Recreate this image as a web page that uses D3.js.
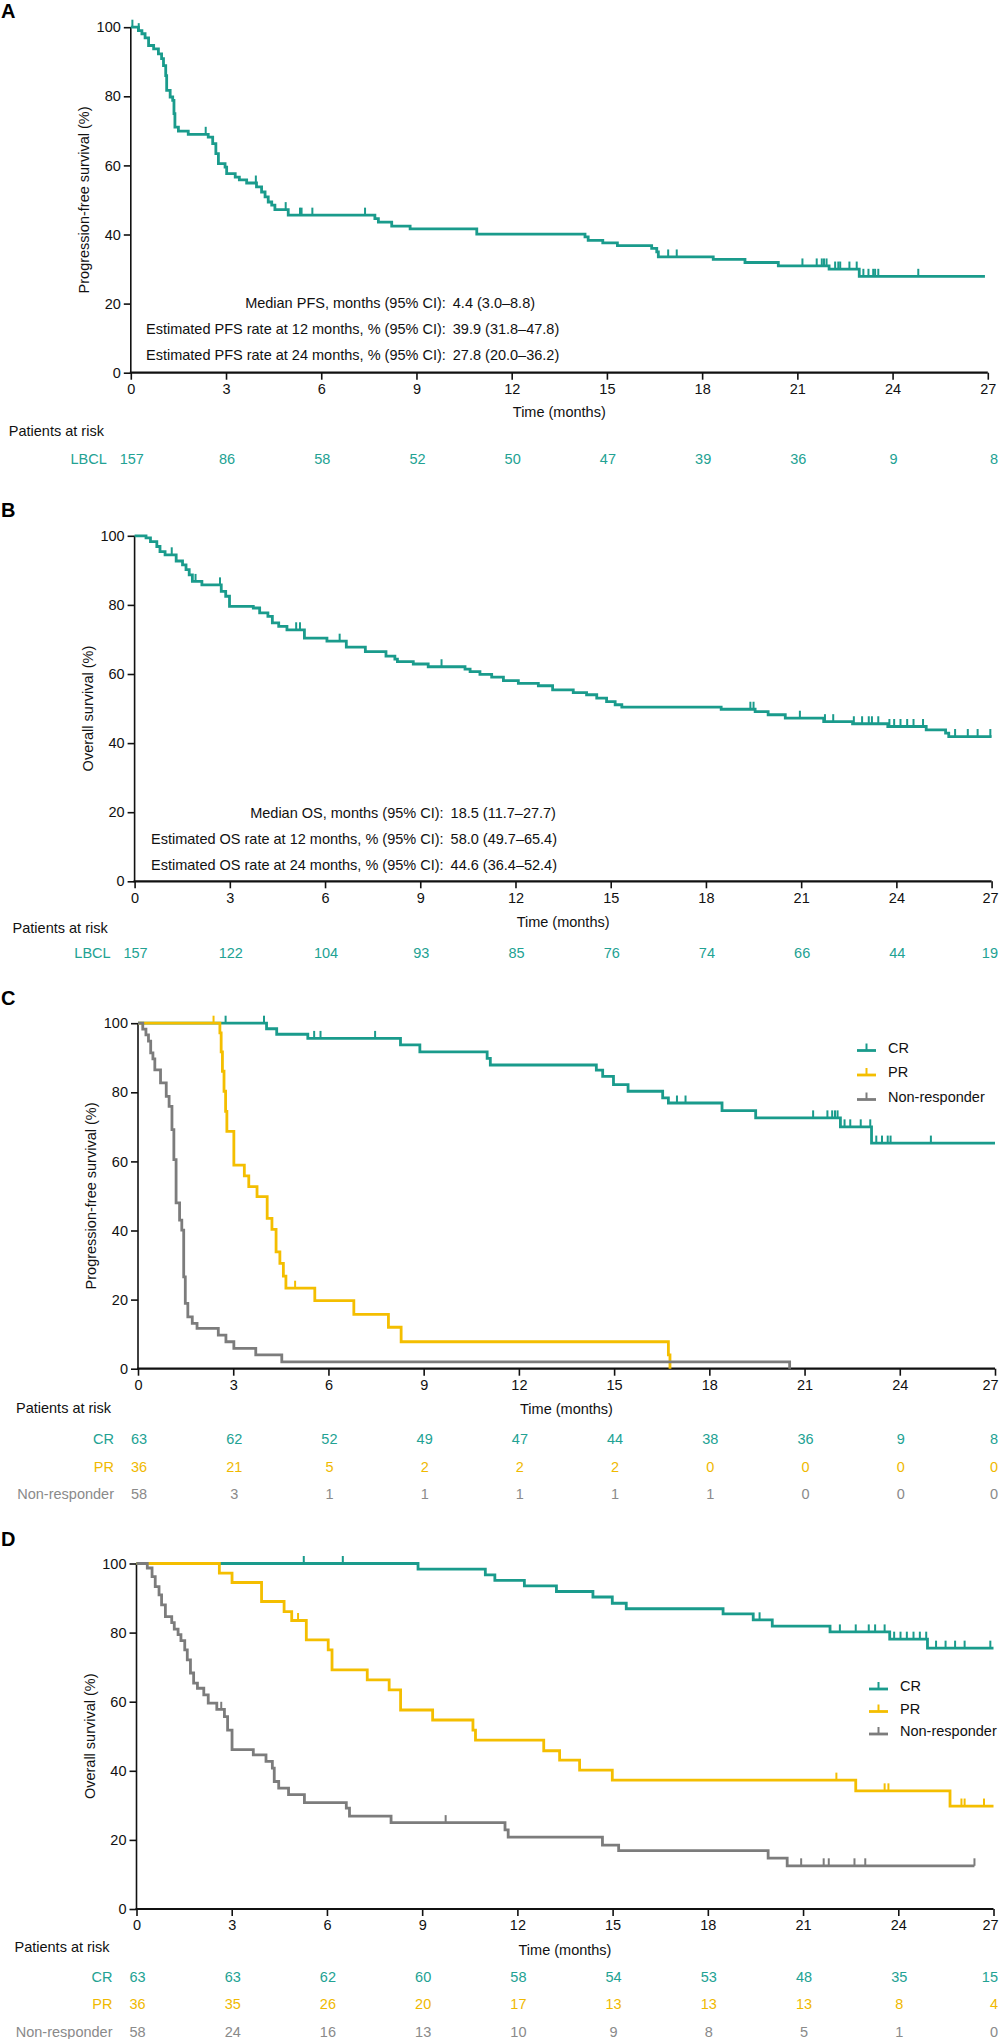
<!DOCTYPE html>
<html>
<head>
<meta charset="utf-8">
<script src="https://cdn.jsdelivr.net/npm/d3@7"></script>
<style>
body { margin: 0; background: #fff; }
text { font-family: "Liberation Sans", Arial, sans-serif; }
</style>
</head>
<body>
<script>
// x and y ticks
var monthTicks = [0, 3, 6, 9, 12, 15, 18, 21, 24, 27];
var pctTicks = [0, 20, 40, 60, 80, 100];

// A: PFS, all LBCL  ([month, % surviving from that month on])
var pfsAllSteps = [[0,100],[0.24,99.0],[0.35,98.1],[0.45,96.9],[0.56,94.7],[0.72,93.7],[0.87,92.3],[0.97,90.9],
  [1.03,88.9],[1.1,86.0],[1.13,81.7],[1.24,79.8],[1.32,78.8],[1.36,75.0],[1.39,71.1],[1.5,69.9],[1.81,69.0],
  [2.44,68.2],[2.58,66.3],[2.68,63.4],[2.76,60.5],[2.97,59.5],[3.02,57.6],[3.29,56.6],[3.42,55.8],[3.65,54.9],
  [3.96,53.8],[4.12,52.3],[4.23,50.9],[4.33,49.4],[4.44,48.5],[4.54,47.2],[4.96,45.6],[7.69,44.6],[7.8,43.6],
  [8.22,42.4],[8.8,41.6],[10.9,40.1],[14.31,39.3],[14.41,38.3],[14.87,37.6],[15.33,36.8],[16.41,36.0],
  [16.57,35.0],[16.62,33.5],[18.35,32.8],[19.35,31.9],[20.4,30.9],[22.0,30.0],[22.95,27.9]];
var pfsAllCensor = [0.05, 0.25, 2.36, 3.94, 4.88, 5.33, 5.38, 5.72, 7.38, 16.93, 17.2, 21.16, 21.61, 21.77,
  21.84, 21.92, 22.19, 22.29, 22.35, 22.64, 22.87, 23.08, 23.24, 23.39, 23.45, 23.55, 24.81];
var pfsAllEnd = 26.91;

// B: OS, all LBCL
var osAllSteps = [[0,100],[0.36,99.4],[0.5,98.3],[0.7,96.9],[0.8,95.4],[0.96,94.5],[1.31,92.7],[1.51,91.6],
  [1.62,90.2],[1.72,88.7],[1.82,86.8],[2.12,85.8],[2.73,83.9],[2.87,82.5],[2.99,79.6],[3.74,79.1],[3.94,77.7],
  [4.2,76.7],[4.34,74.8],[4.54,73.8],[4.8,72.8],[5.35,70.4],[6.06,69.5],[6.67,67.8],[7.27,66.5],[7.92,65.2],
  [8.2,64.3],[8.28,63.6],[8.78,62.9],[9.25,62.1],[10.41,61.4],[10.57,60.7],[10.88,59.9],[11.25,59.1],
  [11.62,58.1],[12.09,57.3],[12.72,56.6],[13.17,55.4],[13.82,54.6],[14.24,54.0],[14.56,53.0],[14.87,52.0],
  [15.14,51.1],[15.35,50.4],[18.48,49.8],[19.55,49.1],[19.96,48.2],[20.5,47.2],[21.71,46.2],[22.62,45.6],
  [23.73,44.8],[24.94,43.8],[25.55,42.9],[25.65,41.9]];
var osAllCensor = [1.17, 1.92, 2.69, 5.09, 5.21, 6.46, 9.67, 19.4, 19.5, 20.96, 21.75, 22.01, 22.66, 22.92,
  23.13, 23.23, 23.43, 23.78, 23.93, 24.13, 24.34, 24.54, 24.84, 25.85, 26.25, 26.56, 26.96];
var osAllEnd = 27;

// C: PFS by best response
var pfsCrSteps = [[0,100],[4.05,98.4],[4.37,96.8],[5.35,95.6],[8.27,93.7],[8.88,91.7],[11.0,89.8],[11.1,87.9],
  [14.44,86.4],[14.64,84.6],[14.98,82.2],[15.44,80.3],[16.53,78.4],[16.71,76.9],[18.4,74.7],[19.46,72.6],
  [22.13,70.0],[23.11,65.3]];
var pfsCrCensor = [2.76, 3.97, 5.55, 5.75, 7.47, 16.98, 17.25, 21.27, 21.72, 21.87, 21.96, 22.04, 22.26,
  22.44, 22.77, 23.07, 23.26, 23.44, 23.62, 23.71, 24.98];
var pfsCrEnd = 27;

var pfsPrSteps = [[0,100],[2.58,97.2],[2.62,91.7],[2.66,86.1],[2.71,80.3],[2.76,74.5],[2.8,68.7],[3.02,58.9],
  [3.35,55.8],[3.49,52.7],[3.75,49.8],[4.07,43.5],[4.22,40.3],[4.35,33.8],[4.47,30.5],[4.58,26.8],[4.66,23.3],
  [5.57,19.7],[6.8,15.7],[7.89,12.0],[8.29,7.8],[16.71,4.0],[16.76,0]];
var pfsPrCensor = [2.38, 4.95];
var pfsPrEnd = 16.76;

var pfsNrSteps = [[0,100],[0.15,98.3],[0.25,96.6],[0.33,94.8],[0.4,91.4],[0.47,89.7],[0.53,86.5],[0.71,82.7],
  [0.89,78.8],[0.98,75.9],[1.07,69.2],[1.13,60.5],[1.2,48.0],[1.31,43.0],[1.38,40.1],[1.44,26.6],[1.49,18.9],
  [1.57,15.0],[1.71,13.1],[1.86,11.7],[2.53,9.7],[2.77,7.8],[3.02,5.9],[3.71,4.0],[4.53,2.0],[20.53,0]];
var pfsNrCensor = [];
var pfsNrEnd = 20.53;

// D: OS by best response
var osCrSteps = [[0,100],[8.87,98.4],[10.99,96.7],[11.29,95.1],[12.22,93.5],[13.23,91.9],[14.38,90.3],
  [14.99,88.5],[15.43,86.9],[18.48,85.4],[19.43,83.7],[20.03,81.9],[21.85,80.2],[23.73,78.1],[24.92,75.5]];
var osCrCensor = [5.27, 6.5, 19.63, 22.16, 22.66, 23.07, 23.27, 23.57, 23.87, 24.07, 24.27, 24.48, 24.68,
  24.88, 25.19, 25.49, 25.79, 26.09, 26.9];
var osCrEnd = 27;

var osPrSteps = [[0,100],[2.61,97.2],[3.01,94.5],[3.94,89.0],[4.65,86.1],[4.89,83.5],[5.35,77.9],[6.04,75.0],
  [6.16,69.2],[7.27,66.3],[7.96,63.4],[8.32,57.6],[9.33,54.7],[10.6,51.8],[10.68,48.9],[12.83,45.8],
  [13.33,43.1],[13.96,40.2],[14.99,37.3],[22.66,34.2],[25.63,29.8]];
var osPrCensor = [5.09, 22.05, 23.57, 23.69, 25.99, 26.09, 26.7];
var osPrEnd = 27;

var osNrSteps = [[0,100],[0.34,98.7],[0.49,96.2],[0.59,93.3],[0.71,90.9],[0.79,88.0],[0.91,84.6],[1.11,82.9],
  [1.19,81.0],[1.31,79.4],[1.4,77.7],[1.52,75.0],[1.6,72.1],[1.7,68.3],[1.8,65.4],[1.92,63.9],[2.12,62.0],
  [2.26,59.6],[2.53,57.8],[2.77,55.7],[2.87,51.8],[3.01,46.1],[3.68,44.6],[4.08,42.7],[4.28,40.8],[4.34,36.9],
  [4.48,35.0],[4.79,33.1],[5.29,30.8],[6.61,29.2],[6.71,26.9],[8.02,25.0],[11.61,22.9],[11.71,20.8],
  [14.68,18.5],[15.19,16.9],[19.9,14.7],[20.5,12.5]];
var osNrCensor = [2.67, 9.74, 20.94, 21.65, 21.81, 22.62, 22.96, 26.4];
var osNrEnd = 26.4;

// Patients at risk
var riskPfsAll = [157, 86, 58, 52, 50, 47, 39, 36, 9, 8];
var riskOsAll = [157, 122, 104, 93, 85, 76, 74, 66, 44, 19];
var riskPfsCr = [63, 62, 52, 49, 47, 44, 38, 36, 9, 8];
var riskPfsPr = [36, 21, 5, 2, 2, 2, 0, 0, 0, 0];
var riskPfsNr = [58, 3, 1, 1, 1, 1, 1, 0, 0, 0];
var riskOsCr = [63, 63, 62, 60, 58, 54, 53, 48, 35, 15];
var riskOsPr = [36, 35, 26, 20, 17, 13, 13, 13, 8, 4];
var riskOsNr = [58, 24, 16, 13, 10, 9, 8, 5, 1, 0];

var pfsStatLabels = ["Median PFS, months (95% CI):", "Estimated PFS rate at 12 months, % (95% CI):",
  "Estimated PFS rate at 24 months, % (95% CI):"];
var pfsStatValues = ["4.4 (3.0\u20138.8)", "39.9 (31.8\u201347.8)", "27.8 (20.0\u201336.2)"];
var osStatLabels = ["Median OS, months (95% CI):", "Estimated OS rate at 12 months, % (95% CI):",
  "Estimated OS rate at 24 months, % (95% CI):"];
var osStatValues = ["18.5 (11.7\u201327.7)", "58.0 (49.7\u201365.4)", "44.6 (36.4\u201352.4)"];

var teal = "#1a9b8c", gold = "#f4be00", grey = "#7c7c7c";
var tealText = "#22a293", goldText = "#f0b900", greyText = "#8a8a8a";
var fontSize = 14.5;
var plotW = 857, plotH = 345.5;

var svg = d3.select("body").append("svg")
  .attr("width", 1000).attr("height", 2039);

function survAt(steps, t)
{
  var s = steps[0][1];
  steps.forEach(function(p) { if (p[0] <= t) s = p[1]; });
  return s;
}

function drawPanel(cfg)
{
  var x = d3.scaleLinear().domain([0, 27]).range([cfg.x0, cfg.x0 + plotW]);
  var y = d3.scaleLinear().domain([0, 100]).range([cfg.y0, cfg.y0 - plotH]);
  var g = svg.append("g");

  // panel letter
  g.append("text").attr("x", 1).attr("y", cfg.letterY)
    .attr("font-size", 20).attr("font-weight", "bold").text(cfg.letter);

  // axes
  var yAxis = g.append("g").attr("transform", "translate(" + cfg.x0 + ",0)")
    .call(d3.axisLeft(y).tickValues(pctTicks).tickSize(7).tickPadding(3));
  var xAxis = g.append("g").attr("transform", "translate(0," + cfg.y0 + ")")
    .call(d3.axisBottom(x).tickValues(monthTicks).tickSize(7).tickPadding(4));
  [yAxis, xAxis].forEach(function(a)
  {
    a.selectAll("path, line").attr("stroke", "#111").attr("stroke-width", 1.6);
    a.select("path.domain").attr("d", null);
    a.selectAll("text").attr("font-size", fontSize).attr("fill", "#111")
      .attr("font-family", "Liberation Sans, Arial, sans-serif");
  });
  // keep the "27" label inside the page
  xAxis.selectAll(".tick text").filter(function(d) { return d === 27; })
    .attr("dx", Math.min(0, 990 - x(27)));
  g.append("line").attr("x1", x(0)).attr("x2", x(0)).attr("y1", y(0)).attr("y2", y(100))
    .attr("stroke", "#111").attr("stroke-width", 1.6);
  g.append("line").attr("x1", x(0) - 1).attr("x2", x(27)).attr("y1", y(0)).attr("y2", y(0))
    .attr("stroke", "#111").attr("stroke-width", 2.2);

  // axis titles
  g.append("text")
    .attr("transform", "translate(" + (cfg.x0 - 47) + "," + ((y(0) + y(100)) / 2) + ") rotate(-90)")
    .attr("text-anchor", "middle").attr("dy", "0.36em").attr("font-size", fontSize)
    .attr("fill", "#111").text(cfg.yTitle);
  g.append("text").attr("x", (x(0) + x(27)) / 2).attr("y", cfg.y0 + cfg.timeDy)
    .attr("text-anchor", "middle").attr("dy", "0.36em").attr("font-size", fontSize)
    .attr("fill", "#111").text("Time (months)");

  // curves
  var line = d3.line().x(function(d) { return x(d[0]); }).y(function(d) { return y(d[1]); })
    .curve(d3.curveStepAfter);
  cfg.series.forEach(function(s)
  {
    var pts = s.steps.concat([[s.end, s.steps[s.steps.length - 1][1]]]);
    g.append("path").attr("d", line(pts)).attr("fill", "none")
      .attr("stroke", s.color).attr("stroke-width", 2.8).attr("stroke-linejoin", "miter");
    g.selectAll(null).data(s.censors).enter().append("line")
      .attr("x1", function(t) { return x(t); }).attr("x2", function(t) { return x(t); })
      .attr("y1", function(t) { return y(survAt(s.steps, t)); })
      .attr("y2", function(t) { return y(survAt(s.steps, t)) - 7.5; })
      .attr("stroke", s.color).attr("stroke-width", 2);
  });

  // median / rate text
  if (cfg.statLabels)
  {
    cfg.statLabels.forEach(function(lbl, i)
    {
      var ty = cfg.y0 + cfg.statDy[i];
      g.append("text").attr("x", cfg.x0 + cfg.statX).attr("y", ty).attr("dy", "0.36em")
        .attr("text-anchor", "end").attr("font-size", fontSize).attr("fill", "#111").text(lbl);
      g.append("text").attr("x", cfg.x0 + cfg.statX + 7).attr("y", ty).attr("dy", "0.36em")
        .attr("font-size", fontSize).attr("fill", "#111").text(cfg.statValues[i]);
    });
  }

  // legend
  if (cfg.legend)
  {
    cfg.series.forEach(function(s, i)
    {
      var ly = cfg.legend.y + i * cfg.legend.gap;
      g.append("line").attr("x1", cfg.legend.x).attr("x2", cfg.legend.x + 19)
        .attr("y1", ly + 3).attr("y2", ly + 3).attr("stroke", s.color).attr("stroke-width", 2.8);
      g.append("line").attr("x1", cfg.legend.x + 9.5).attr("x2", cfg.legend.x + 9.5)
        .attr("y1", ly + 3).attr("y2", ly - 4).attr("stroke", s.color).attr("stroke-width", 2);
      g.append("text").attr("x", cfg.legend.x + 31).attr("y", ly).attr("dy", "0.36em")
        .attr("font-size", fontSize).attr("fill", "#111").text(s.name);
    });
  }

  // patients at risk
  g.append("text").attr("x", cfg.x0 - 122).attr("y", cfg.y0 + cfg.riskTitleDy).attr("dy", "0.36em")
    .attr("font-size", fontSize).attr("fill", "#111").text("Patients at risk");
  var last = monthTicks.length - 1;
  cfg.series.forEach(function(s, i)
  {
    var ry = cfg.y0 + cfg.riskDy[i];
    g.append("text").attr("x", cfg.x0 - 24).attr("y", ry).attr("dy", "0.36em")
      .attr("text-anchor", "end").attr("font-size", fontSize).attr("fill", s.textColor).text(s.label);
    g.selectAll(null).data(s.risk).enter().append("text")
      .attr("x", function(d, j) { return j === last ? 998 : x(monthTicks[j]) + 1; })
      .attr("y", ry).attr("dy", "0.36em")
      .attr("text-anchor", function(d, j) { return j === last ? "end" : "middle"; })
      .attr("font-size", fontSize).attr("fill", s.textColor)
      .text(function(d) { return d; });
  });
}

drawPanel({
  letter: "A", letterY: 18, x0: 130.8, y0: 372.7, yTitle: "Progression-free survival (%)",
  timeDy: 39.5, riskTitleDy: 58.3, riskDy: [86.3],
  statLabels: pfsStatLabels, statValues: pfsStatValues, statX: 315, statDy: [-70, -43.7, -17.7],
  series: [{ name: "LBCL", label: "LBCL", color: teal, textColor: tealText,
    steps: pfsAllSteps, censors: pfsAllCensor, end: pfsAllEnd, risk: riskPfsAll }]
});

drawPanel({
  letter: "B", letterY: 517, x0: 134.6, y0: 881.3, yTitle: "Overall survival (%)",
  timeDy: 40.7, riskTitleDy: 46.7, riskDy: [71.7],
  statLabels: osStatLabels, statValues: osStatValues, statX: 309, statDy: [-69, -42.2, -16.3],
  series: [{ name: "LBCL", label: "LBCL", color: teal, textColor: tealText,
    steps: osAllSteps, censors: osAllCensor, end: osAllEnd, risk: riskOsAll }]
});

drawPanel({
  letter: "C", letterY: 1005, x0: 138, y0: 1368.7, yTitle: "Progression-free survival (%)",
  timeDy: 40.3, riskTitleDy: 38.6, riskDy: [70.3, 98, 124.6],
  legend: { x: 857, y: 1047.5, gap: 24.5 },
  series: [
    { name: "CR", label: "CR", color: teal, textColor: tealText,
      steps: pfsCrSteps, censors: pfsCrCensor, end: pfsCrEnd, risk: riskPfsCr },
    { name: "PR", label: "PR", color: gold, textColor: goldText,
      steps: pfsPrSteps, censors: pfsPrCensor, end: pfsPrEnd, risk: riskPfsPr },
    { name: "Non-responder", label: "Non-responder", color: grey, textColor: greyText,
      steps: pfsNrSteps, censors: pfsNrCensor, end: pfsNrEnd, risk: riskPfsNr }]
});

drawPanel({
  letter: "D", letterY: 1546, x0: 136.5, y0: 1909, yTitle: "Overall survival (%)",
  timeDy: 41, riskTitleDy: 37.7, riskDy: [67.7, 95, 122.7],
  legend: { x: 869, y: 1686, gap: 22.5 },
  series: [
    { name: "CR", label: "CR", color: teal, textColor: tealText,
      steps: osCrSteps, censors: osCrCensor, end: osCrEnd, risk: riskOsCr },
    { name: "PR", label: "PR", color: gold, textColor: goldText,
      steps: osPrSteps, censors: osPrCensor, end: osPrEnd, risk: riskOsPr },
    { name: "Non-responder", label: "Non-responder", color: grey, textColor: greyText,
      steps: osNrSteps, censors: osNrCensor, end: osNrEnd, risk: riskOsNr }]
});
</script>
</body>
</html>
